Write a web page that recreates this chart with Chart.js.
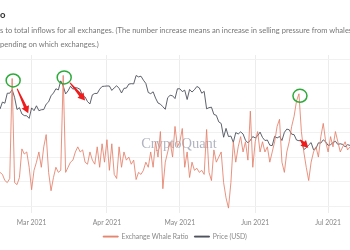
<!DOCTYPE html>
<html>
<head>
<meta charset="utf-8">
<script src="https://cdn.jsdelivr.net/npm/chart.js@4.4.1/dist/chart.umd.min.js"></script>
<style>
  html, body { margin: 0; padding: 0; background: #fff; }
  #wrap { position: relative; width: 350px; height: 250px; overflow: hidden; }
  canvas { position: absolute; left: 0; top: 0; }
  .t { position: absolute; white-space: nowrap; font-family: Lato, "Open Sans", sans-serif; color: #777; font-size: 7.55px; }
</style>
</head>
<body>
<div id="wrap">
  <canvas id="c" width="350" height="250"></canvas>
  <div class="t" style="left:0;top:9px;font-size:9.5px;font-weight:bold;color:#333;">o</div>
  <div class="t" style="left:0;top:26px;">s to total inflows for all exchanges. (The number increase means an increase in selling pressure from whales</div>
  <div class="t" style="left:0;top:40px;">pending on which exchanges.)</div>
</div>
<script>
// ---- data ----
const startDate = '2021-02-16';
const dayCount = 145;
const dates = [];
(function(){ const d0 = new Date(startDate + 'T00:00:00Z'); for (let i = 0; i < dayCount; i++) { const d = new Date(d0.getTime() + i * 86400000); dates.push(d.toISOString().slice(0,10)); } })();

const monthNames = ['Jan','Feb','Mar','Apr','May','Jun','Jul','Aug','Sep','Oct','Nov','Dec'];

const whaleRatio = [
  0.50,0.49,0.46,0.45,0.47,0.96,0.45,0.44,0.475,0.615,
  0.59,0.60,0.525,0.415,0.51,0.55,0.60,0.525,0.625,0.685,
  0.50,0.41,0.475,0.525,0.50,0.51,0.975,0.50,0.525,0.55,
  0.56,0.60,0.625,0.60,0.61,0.55,0.54,0.60,0.56,0.54,
  0.625,0.525,0.64,0.55,0.66,0.51,0.64,0.49,0.47,0.625,
  0.525,0.60,0.56,0.575,0.54,0.56,0.465,0.50,0.49,0.51,
  0.55,0.525,0.60,0.525,0.65,0.575,0.70,0.42,0.55,0.60,
  0.65,0.575,0.725,0.625,0.65,0.715,0.525,0.60,0.475,0.55,
  0.51,0.52,0.50,0.51,0.49,0.71,0.50,0.46,0.61,0.55,
  0.575,0.60,0.45,0.375,0.325,0.45,0.65,0.55,0.625,0.675,
  0.60,0.65,0.56,0.80,0.525,0.65,0.70,0.60,0.65,0.60,
  0.625,0.55,0.60,0.65,0.725,0.76,0.55,0.50,0.60,0.65,
  0.725,0.775,0.85,0.885,0.70,0.60,0.525,0.46,0.55,0.60,
  0.625,0.575,0.675,0.74,0.65,0.60,0.675,0.625,0.70,0.65,
  0.60,0.625,0.65,0.61,0.625
];

const priceUSD = [
  49100,52100,51600,55900,55900,57400,54100,48900,49700,47000,
  46300,46200,45100,49600,48400,50500,48400,48800,48900,51200,
  52200,54800,56000,57800,57300,61200,59000,55600,56900,58900,
  57600,58300,58100,57500,54500,54300,52300,51300,55200,55800,
  55800,57600,58800,58900,59000,59000,57100,58200,59100,58000,
  56000,58000,58100,59800,60000,59900,63500,62900,63200,61500,
  60100,56200,55700,56500,53800,51700,51200,50100,49000,54000,
  55000,54800,53600,57800,57800,56600,57200,53200,57500,56400,
  57400,58800,58200,55900,56700,49200,49700,49900,46800,46400,
  43600,42900,37000,40800,37300,37500,34800,39000,38400,39300,
  38400,35700,34600,35700,37300,36700,37600,39200,36900,35600,
  35800,33600,33400,37400,36700,37300,35600,39100,40500,40200,
  38300,38100,35800,35500,35600,31700,32500,33700,34700,31600,
  32200,34600,34500,35900,35000,33500,33800,34700,35300,33900,
  34200,33900,32900,33800,33500
];

const ratioGridValues = [0.335,0.455,0.575,0.695,0.815,0.935,1.055];
const spikeIndices = [5, 26, 123];
const arrows = [
  { from: 5,  to: 11,  f: [5,-1],  t: [1.5,-2.5] },
  { from: 28, to: 35,  f: [2,-8],  t: [0,3.5] },
  { from: 123, to: 126, f: [1,-1], t: [2,0] }
];
const legendNames = ['Exchange Whale Ratio', 'Price (USD)'];

// ---- chart ----
const RATIO_COLOR = 'rgba(228,128,106,0.85)';
const PRICE_COLOR = 'rgba(72,76,88,0.88)';

function drawArrow(ctx, x1, y1, x2, y2) {
  const ang = Math.atan2(y2 - y1, x2 - x1);
  const len = Math.hypot(x2 - x1, y2 - y1);
  const headL = 7, headW = 4, shaftEnd = len - headL;
  ctx.save();
  ctx.translate(x1, y1);
  ctx.rotate(ang);
  ctx.fillStyle = '#ee1c1c';
  ctx.beginPath();
  ctx.moveTo(0, -0.5);
  ctx.lineTo(shaftEnd, -1.6);
  ctx.lineTo(shaftEnd, -headW);
  ctx.lineTo(len, 0);
  ctx.lineTo(shaftEnd, headW);
  ctx.lineTo(shaftEnd, 1.6);
  ctx.lineTo(0, 0.5);
  ctx.closePath();
  ctx.fill();
  ctx.restore();
}

const decorPlugin = {
  id: 'decor',
  beforeDatasetsDraw(chart) {
    const ctx = chart.ctx, a = chart.chartArea;
    ctx.save();
    ctx.font = '14.5px "Liberation Serif", serif';
    ctx.fillStyle = 'rgba(110,118,140,0.55)';
    ctx.textAlign = 'center';
    ctx.textBaseline = 'middle';
    ctx.fillText('CryptoQuant', 179, (a.top + a.bottom) / 2 + 10);
    ctx.restore();
  },
  afterDatasetsDraw(chart) {
    const ctx = chart.ctx;
    const rMeta = chart.getDatasetMeta(0).data;
    const pMeta = chart.getDatasetMeta(1).data;
    ctx.save();
    ctx.strokeStyle = '#2eaa3a';
    ctx.lineWidth = 1.5;
    spikeIndices.forEach(i => {
      const p = rMeta[i];
      ctx.beginPath();
      ctx.ellipse(p.x + 1, p.y + 2, 7, 6.5, 0, 0, Math.PI * 2);
      ctx.stroke();
    });
    arrows.forEach(ar => {
      const s = pMeta[ar.from], e = pMeta[ar.to];
      drawArrow(ctx, s.x + ar.f[0], s.y + ar.f[1], e.x + ar.t[0], e.y + ar.t[1]);
    });
    ctx.restore();
  }
};

new Chart(document.getElementById('c'), {
  type: 'line',
  data: {
    labels: dates,
    datasets: [
      { label: legendNames[0], data: whaleRatio, yAxisID: 'yR', borderColor: RATIO_COLOR, backgroundColor: RATIO_COLOR, borderWidth: 1, pointRadius: 0, tension: 0, fill: false },
      { label: legendNames[1], data: priceUSD, yAxisID: 'yP', borderColor: PRICE_COLOR, backgroundColor: PRICE_COLOR, borderWidth: 1, pointRadius: 0, tension: 0, fill: false }
    ]
  },
  options: {
    responsive: false,
    animation: false,
    devicePixelRatio: 1,
    layout: { padding: { top: 55, left: 0, right: 0, bottom: 0 } },
    plugins: {
      legend: {
        position: 'bottom',
        labels: { boxWidth: 15, boxHeight: 1, padding: 6, color: '#888', font: { family: 'Lato', size: 6.8 } }
      },
      tooltip: { enabled: false }
    },
    scales: {
      x: {
        offset: false,
        border: { display: false },
        grid: {
          drawTicks: false,
          color: ctx => (ctx.tick && dates[ctx.index] && dates[ctx.index].endsWith('-01')) ? '#ececec' : 'rgba(0,0,0,0)'
        },
        ticks: {
          autoSkip: false, maxRotation: 0, padding: 6, color: '#888',
          font: { family: 'Lato', size: 6.8 },
          callback: function(v, i) { const d = dates[i]; if (d && d.endsWith('-01')) { return monthNames[+d.slice(5,7) - 1] + ' ' + d.slice(0,4); } return ''; }
        },
        afterFit: s => { s.paddingLeft = 0; s.paddingRight = 0; s.height = 14; }
      },
      yR: {
        position: 'left', display: true, min: 0.3, max: 1.075,
        border: { display: false },
        ticks: { display: false, padding: 0 },
        grid: { drawTicks: false, color: '#f1f1f1' },
        afterBuildTicks: s => { s.ticks = ratioGridValues.map(v => ({ value: v })); },
        afterFit: s => { s.width = 0; }
      },
      yP: {
        position: 'right', display: false, min: 4400, max: 72300
      }
    }
  },
  plugins: [decorPlugin]
});
</script>
</body>
</html>
